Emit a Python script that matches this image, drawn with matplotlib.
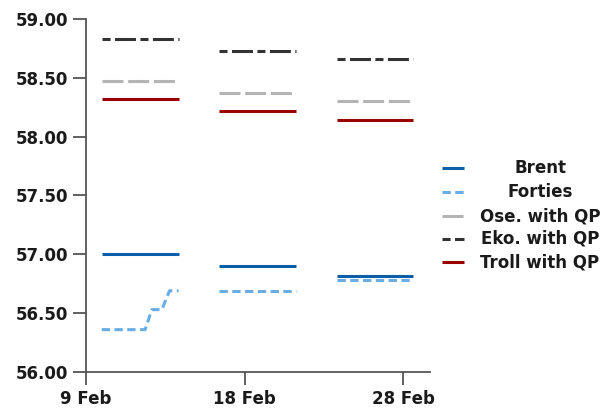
import matplotlib
matplotlib.use('Agg')
import matplotlib.pyplot as plt
from matplotlib.lines import Line2D

plt.rcParams['font.family'] = ['DejaVu Sans']
plt.rcParams['lines.scale_dashes'] = False

# ---------------- data ----------------
dates = ['9 Feb', '18 Feb', '28 Feb']
win_start = [0.099, 0.839, 1.584]   # start of each pricing window (category units)
win_end = [0.584, 1.325, 2.063]     # end of each pricing window
brent = [57.00, 56.90, 56.82]
forties = [56.69, 56.69, 56.78]
forties_first_frac = [0.0, 0.565, 0.652, 0.783, 0.882, 1.0]
forties_first_vals = [56.36, 56.36, 56.53, 56.53, 56.69, 56.69]
ose = [58.47, 58.37, 58.30]
eko = [58.83, 58.73, 58.66]
troll = [58.32, 58.22, 58.14]
yticks = [56.0, 56.5, 57.0, 57.5, 58.0, 58.5, 59.0]
labels = ['Brent', 'Forties', 'Ose. with QP', 'Eko. with QP', 'Troll with QP']

# ---------------- styles ----------------
styles = {
    'Brent': dict(color='#0b5ea8', ls='-'),
    'Forties': dict(color='#6aade4', ls=(0, (6.0, 3.2))),
    'Ose. with QP': dict(color='#b4b4b4', ls=(0, (15.1, 3.4))),
    'Eko. with QP': dict(color='#333333', ls=(0, (5.8, 3.2, 15.1, 3.2))),
    'Troll with QP': dict(color='#990000', ls='-'),
}
LW = 2.2
axis_col = '#555555'
txt_col = '#1a1a1a'

W, H = 613, 412
fig = plt.figure(figsize=(W / 100, H / 100), dpi=100)
ax = fig.add_axes([86 / W, (H - 372) / H, (430 - 86) / W, (372 - 19) / H])
ax.set_xlim(0, 2.170)
ax.set_ylim(56.0, 59.0)

series = {'Brent': brent, 'Forties': forties, 'Ose. with QP': ose,
          'Eko. with QP': eko, 'Troll with QP': troll}

for name in ['Forties', 'Brent', 'Ose. with QP', 'Troll with QP', 'Eko. with QP']:
    vals = series[name]
    st = styles[name]
    for i in range(len(dates)):
        if name == 'Forties' and i == 0:
            xs = [win_start[0] + f * (win_end[0] - win_start[0]) for f in forties_first_frac]
            ys = forties_first_vals
        else:
            xs = [win_start[i], win_end[i]]
            ys = [vals[i], vals[i]]
        ax.plot(xs, ys, color=st['color'], linestyle=st['ls'], lw=LW,
                solid_capstyle='butt', dash_capstyle='butt', solid_joinstyle='miter')

ax.set_xticks(range(len(dates)))
ax.set_xticklabels(dates)
ax.set_yticks(yticks)
ax.set_yticklabels([f'{v:.2f}' for v in yticks])

for s in ['top', 'right']:
    ax.spines[s].set_visible(False)
for s in ['left', 'bottom']:
    ax.spines[s].set_color(axis_col)
    ax.spines[s].set_linewidth(1.3)
ax.tick_params(direction='out', length=9.5, width=1.3, color=axis_col,
               labelsize=12, labelcolor=txt_col, pad=3.5)
for t in ax.get_xticklabels() + ax.get_yticklabels():
    t.set_fontweight('bold')

# ---------------- legend ----------------
rows = [168, 192, 216, 239, 262]
for lab, r in zip(labels, rows):
    st = styles[lab]
    y = 1 - r / H
    fig.add_artist(Line2D([442 / W, 464 / W], [y, y], transform=fig.transFigure,
                          color=st['color'], linestyle=st['ls'], lw=LW,
                          solid_capstyle='butt', dash_capstyle='butt'))
    fig.text(540 / W, y, lab, ha='center', va='center', fontsize=12,
             fontweight='bold', color=txt_col)

fig.savefig('out.png', dpi=100)
